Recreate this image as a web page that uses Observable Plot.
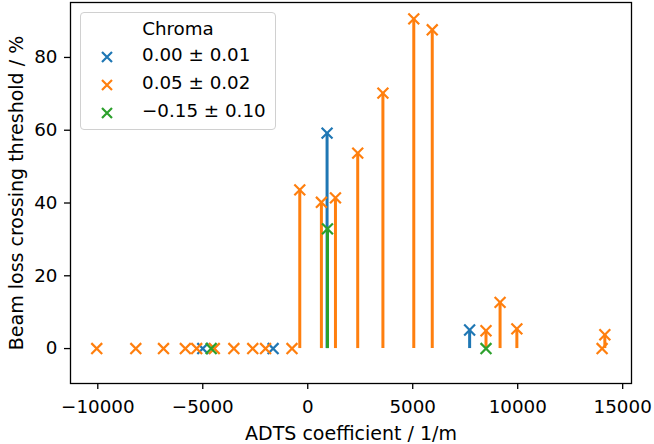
<!DOCTYPE html>
<html>
<head>
<meta charset="utf-8">
<script src="https://cdn.jsdelivr.net/npm/d3@7"></script>
<script src="https://cdn.jsdelivr.net/npm/@observablehq/plot@0.6"></script>
<style>
  body { margin: 0; background: #fff; }
  #wrap { position: relative; width: 654px; height: 444px; font-family: "DejaVu Sans", sans-serif; }
  #legend { position: absolute; left: 80px; top: 12px; width: 194px; height: 116px; border: 1px solid #d0d0d0; border-radius: 4px; background: rgba(255,255,255,0.8); font-size: 18.3px; color: #000; }
  #legend .t { position: absolute; height: 20px; line-height: 20px; white-space: nowrap; }
  #legend svg { position: absolute; }
</style>
</head>
<body>
<div id="wrap"></div>
<script>
// Series: chroma groups
const seriesNames = ["0.00 ± 0.01", "0.05 ± 0.02", "−0.15 ± 0.10"];
const seriesColors = ["#1f77b4", "#ff7f0e", "#2ca02c"];

const blueX = [-5000, -1650, 920, 7710];
const blueY = [0, 0, 59.2, 5.1];

const orangeX = [-10050, -8190, -6870, -5830, -5290, -4450, -3520, -2620, -2010, -750, -380, 650, 1320, 2380, 3580, 5050, 5930, 8490, 9160, 9960, 14020, 14150];
const orangeY = [0, 0, 0, 0, 0, 0, 0, 0, 0, 0, 43.6, 40.2, 41.4, 53.7, 70.2, 90.6, 87.6, 4.9, 12.7, 5.4, 0, 3.8];

const greenX = [-4600, 940, 8490];
const greenY = [0, 32.9, 0];

const xTicks = [-10000, -5000, 0, 5000, 10000, 15000];
const yTicks = [0, 20, 40, 60, 80];

const xLabel = "ADTS coefficient / 1/m";
const yLabel = "Beam loss crossing threshold / %";
const legendTitle = "Chroma";

const groups = [
  {xs: blueX, ys: blueY},
  {xs: orangeX, ys: orangeY},
  {xs: greenX, ys: greenY}
].map((g, i) => g.xs.map((x, j) => ({x, y: g.ys[j], s: seriesNames[i]})));

const fmt = d => (d < 0 ? "−" : "") + Math.abs(d);

const marks = [];
groups.forEach((data, i) => {
  marks.push(Plot.ruleX(data.filter(d => d.y > 0), {x: "x", y1: 0, y2: "y", stroke: seriesColors[i], strokeWidth: 3}));
  marks.push(Plot.dot(data, {x: "x", y: "y", symbol: "times", r: 5, stroke: seriesColors[i], strokeWidth: 2.2}));
});

const chart = Plot.plot({
  width: 654,
  height: 444,
  marginLeft: 70,
  marginRight: 23,
  marginTop: 2,
  marginBottom: 61,
  style: {fontFamily: "DejaVu Sans", fontSize: "18.3px", color: "#000", background: "#fff"},
  x: {domain: [-11300, 15420]},
  y: {domain: [-9.6, 95.1]},
  marks: [
    ...marks,
    Plot.frame({stroke: "#000", strokeWidth: 1.3}),
    Plot.axisX({ticks: xTicks, tickFormat: fmt, tickSize: 6, tickPadding: 10, fontSize: 18.3, label: null, strokeWidth: 1.3}),
    Plot.axisY({ticks: yTicks, tickFormat: fmt, tickSize: 6, tickPadding: 7, fontSize: 18.3, label: null, strokeWidth: 1.3}),
    Plot.text([xLabel], {frameAnchor: "bottom", dy: 50, text: d => d, fontSize: 19, lineAnchor: "middle", textAnchor: "middle"}),
    Plot.text([yLabel], {frameAnchor: "left", dx: -54, rotate: -90, text: d => d, fontSize: 19, lineAnchor: "middle", textAnchor: "middle"})
  ]
});

const wrap = document.getElementById("wrap");
wrap.appendChild(chart);

// Legend (inside axes, upper left)
const legend = document.createElement("div");
legend.id = "legend";
const title = document.createElement("div");
title.className = "t";
title.textContent = legendTitle;
title.style.left = "0px";
title.style.width = "194px";
title.style.textAlign = "center";
title.style.top = (16 - 10) + "px";
legend.appendChild(title);
const markerYs = [44, 72, 100];
seriesNames.forEach((name, i) => {
  const svg = document.createElementNS("http://www.w3.org/2000/svg", "svg");
  svg.setAttribute("width", 14);
  svg.setAttribute("height", 14);
  svg.style.left = (26 - 7) + "px";
  svg.style.top = (markerYs[i] - 7) + "px";
  const p = document.createElementNS("http://www.w3.org/2000/svg", "path");
  p.setAttribute("d", "M2,2L12,12M2,12L12,2");
  p.setAttribute("stroke", seriesColors[i]);
  p.setAttribute("stroke-width", 2.2);
  svg.appendChild(p);
  legend.appendChild(svg);
  const t = document.createElement("div");
  t.className = "t";
  t.textContent = name;
  t.style.left = "61px";
  t.style.top = (markerYs[i] - 2 - 10) + "px";
  legend.appendChild(t);
});
wrap.appendChild(legend);
</script>
</body>
</html>
